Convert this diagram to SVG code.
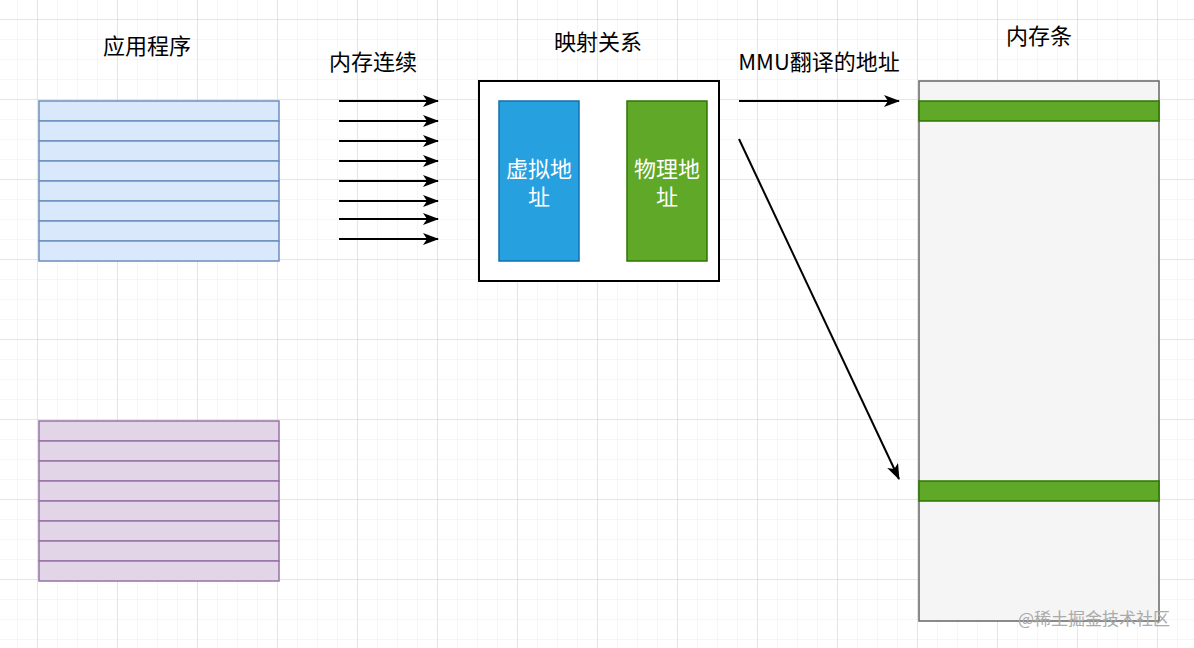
<svg xmlns="http://www.w3.org/2000/svg" width="1194" height="648" viewBox="0 0 1194 648">
<defs>
<pattern id="minor" x="-2" y="0" width="20" height="20" patternUnits="userSpaceOnUse"><path d="M20 0V20M0 20H20" fill="none" stroke="#ececec" stroke-width="1"/></pattern>
<pattern id="major" x="-42" y="-60" width="80" height="80" patternUnits="userSpaceOnUse"><path d="M80 0V80M0 80H80" fill="none" stroke="#d4d4d4" stroke-width="1"/></pattern>
<marker id="ah" viewBox="0 0 16 12" refX="15" refY="6" markerWidth="16" markerHeight="12" markerUnits="userSpaceOnUse" orient="auto"><path d="M0 0L16 6L0 12L4 6Z" fill="#000"/></marker>
</defs>
<style>
text{font-family:"Noto Sans CJK SC","Liberation Sans",sans-serif;font-size:22px;text-anchor:middle}
.row1{fill:#dae8fc;stroke:#6c8ebf;stroke-width:1.5}
.row2{fill:#e1d5e7;stroke:#9673a6;stroke-width:1.5}
.c{stroke:#000;stroke-width:2;fill:none;marker-end:url(#ah)}
.w{fill:#fff}
</style>
<rect width="1194" height="648" fill="#fff"/>
<rect width="1194" height="648" fill="url(#minor)"/>
<rect width="1194" height="648" fill="url(#major)"/>
<text x="147" y="54">应用程序</text>
<text x="373" y="70">内存连续</text>
<text x="598" y="50">映射关系</text>
<text x="819" y="70">MMU翻译的地址</text>
<text x="1039" y="44">内存条</text>
<g id="app1">
<rect class="row1" x="39" y="101" width="240" height="20"/><rect class="row1" x="39" y="121" width="240" height="20"/><rect class="row1" x="39" y="141" width="240" height="20"/><rect class="row1" x="39" y="161" width="240" height="20"/><rect class="row1" x="39" y="181" width="240" height="20"/><rect class="row1" x="39" y="201" width="240" height="20"/><rect class="row1" x="39" y="221" width="240" height="20"/><rect class="row1" x="39" y="241" width="240" height="20"/>
</g>
<g id="app2">
<rect class="row2" x="39" y="421" width="240" height="20"/><rect class="row2" x="39" y="441" width="240" height="20"/><rect class="row2" x="39" y="461" width="240" height="20"/><rect class="row2" x="39" y="481" width="240" height="20"/><rect class="row2" x="39" y="501" width="240" height="20"/><rect class="row2" x="39" y="521" width="240" height="20"/><rect class="row2" x="39" y="541" width="240" height="20"/><rect class="row2" x="39" y="561" width="240" height="20"/>
</g>
<g id="mapping">
<rect x="479" y="81" width="240" height="200" fill="#fff" stroke="#000" stroke-width="2"/>
</g>
<g id="virtual">
<rect x="499" y="101" width="80" height="160" fill="#27a0e0" stroke="#1070b0" stroke-width="1.5"/>
<text class="w" x="539" y="177">虚拟地</text><text class="w" x="539" y="205">址</text>
</g>
<g id="physical">
<rect x="627" y="101" width="80" height="160" fill="#60a828" stroke="#2d7600" stroke-width="1.5"/>
<text class="w" x="667" y="177">物理地</text><text class="w" x="667" y="205">址</text>
</g>
<g id="memory">
<rect x="919" y="81" width="240" height="540" fill="#f5f5f5" stroke="#666" stroke-width="1.5"/>
<rect x="919" y="101" width="240" height="20" fill="#60a828" stroke="#2d7600" stroke-width="1.5"/>
<rect x="919" y="481" width="240" height="20" fill="#60a828" stroke="#2d7600" stroke-width="1.5"/>
</g>
<g id="connectors">
<path class="c" d="M339 101H438"/><path class="c" d="M339 121H438"/><path class="c" d="M339 141H438"/><path class="c" d="M339 161H438"/><path class="c" d="M339 181H438"/><path class="c" d="M339 201H438"/><path class="c" d="M339 219H438"/><path class="c" d="M339 239H438"/>
<path class="c" d="M739 101H899"/>
<path class="c" d="M739 139L899 479"/>
</g>
<text x="1094" y="625" style="font-size:17px;fill:#aaa">@稀土掘金技术社区</text>
</svg>
